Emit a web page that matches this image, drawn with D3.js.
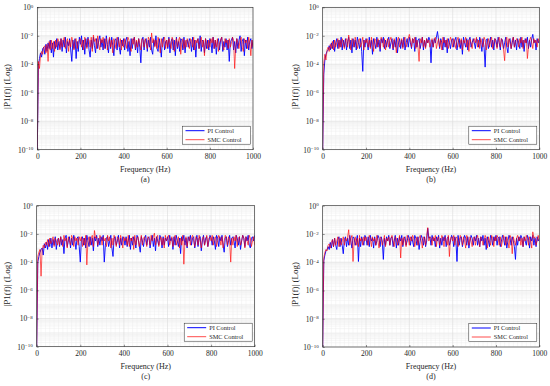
<!DOCTYPE html>
<html>
<head>
<meta charset="utf-8">
<script src="https://cdn.jsdelivr.net/npm/d3@7"></script>
<style>
  body { margin: 0; background: #fff; }
  text { font-family: "Liberation Serif", "Times New Roman", serif; fill: #262626; }
</style>
</head>
<body>
<div id="chart"></div>
<script>
// spectra, stored as log10 |P1(f)|, one value every 5 Hz from 0 to 1000 Hz
var freqStep = 5;
var xTicks = [0, 200, 400, 600, 800, 1000];
var yTickExp = [0, -2, -4, -6, -8, -10];
var seriesNames = ["PI Control", "SMC Control"];
var panelTags = ["(a)", "(b)", "(c)", "(d)"];

var piA = [
  -10, -4.1, -3.6, -3.2, -3.5, -2.9, -2.8, -3.3, -2.6, -3.1, -2.5, -2.9, -2.3, -3.2, -2.5, -3.5, -2.4, -2.9, -2.2, -3.0,
  -2.4, -2.9, -2.2, -3.1, -2.3, -2.8, -2.1, -3.2, -2.4, -2.7, -2.2, -3.0, -3.8, -2.3, -2.9, -2.2, -3.6, -2.4, -3.1, -2.1,
  -2.6, -2.0, -3.0, -2.3, -3.3, -2.2, -2.8, -2.1, -3.0, -3.5, -2.3, -2.9, -2.1, -2.7, -3.2, -2.2, -2.9, -2.3, -2.0, -2.8,
  -2.3, -3.0, -2.2, -2.9, -2.0, -2.6, -3.2, -2.2, -2.9, -2.1, -2.7, -3.4, -2.3, -2.2, -3.0, -2.1, -2.8, -3.3, -2.3, -2.7,
  -2.2, -3.0, -2.3, -2.1, -3.1, -2.4, -3.4, -2.2, -2.9, -2.3, -2.1, -3.0, -2.4, -3.2, -2.2, -2.8, -3.9, -2.3, -2.1, -3.0,
  -2.3, -2.2, -3.1, -2.3, -2.8, -2.1, -3.0, -3.3, -2.3, -2.7, -2.0, -2.9, -3.1, -2.2, -2.7, -3.5, -2.3, -2.1, -3.0, -2.4,
  -2.3, -2.9, -2.1, -3.2, -2.4, -2.2, -3.0, -2.3, -3.4, -2.1, -2.9, -2.4, -3.1, -2.2, -2.3, -3.0, -2.1, -3.2, -2.4, -2.3,
  -2.8, -2.2, -2.4, -3.1, -2.1, -3.0, -2.3, -3.5, -2.4, -2.2, -2.9, -2.0, -3.1, -2.3, -2.4, -3.2, -2.2, -2.9, -2.3, -3.0,
  -2.2, -2.4, -3.2, -2.1, -2.9, -2.3, -3.3, -2.4, -2.2, -3.0, -2.3, -2.1, -3.1, -2.4, -2.8, -2.2, -3.0, -2.3, -3.8, -2.4,
  -2.3, -2.1, -3.0, -2.4, -3.2, -2.2, -2.9, -2.3, -2.0, -3.1, -2.4, -2.2, -3.4, -2.3, -2.9, -2.1, -3.0, -2.4, -2.2, -2.9,
  -2.3
];
var smcA = [
  -10, -3.8, -4.3, -3.4, -3.1, -3.3, -2.8, -2.7, -3.2, -2.6, -3.8, -2.4, -3.0, -2.3, -2.9, -2.4, -3.1, -2.3, -2.8, -2.2,
  -2.4, -3.0, -2.2, -2.8, -2.3, -2.1, -2.9, -2.4, -2.2, -3.1, -2.3, -2.8, -2.1, -2.5, -3.0, -2.3, -2.2, -2.9, -2.4, -2.3,
  -2.2, -2.8, -2.3, -3.0, -2.1, -2.5, -2.9, -2.2, -2.3, -2.8, -2.1, -3.1, -1.95, -2.4, -2.2, -2.9, -2.0, -2.6, -3.0, -2.2,
  -2.5, -2.1, -2.9, -2.3, -2.2, -3.0, -2.4, -2.1, -2.8, -2.3, -3.2, -2.2, -2.5, -2.9, -2.1, -2.3, -2.8, -2.2, -3.0, -2.3,
  -2.8, -2.2, -2.5, -2.9, -2.1, -2.3, -2.8, -3.1, -2.2, -2.6, -2.1, -2.9, -2.3, -2.8, -2.2, -2.5, -3.0, -2.2, -2.3, -2.8,
  -2.2, -2.5, -2.9, -2.1, -2.3, -3.0, -1.8, -2.5, -2.2, -2.8, -2.3, -2.9, -2.1, -2.5, -3.2, -2.2, -2.8, -2.3, -2.1, -2.9,
  -2.3, -2.8, -2.2, -2.5, -2.9, -2.1, -2.3, -3.1, -2.5, -2.2, -2.8, -2.3, -2.1, -3.3, -2.5, -2.2, -2.9, -2.3, -2.8, -2.2,
  -2.5, -2.9, -2.2, -2.3, -2.8, -2.1, -3.0, -2.3, -2.5, -2.2, -2.9, -2.5, -2.1, -2.8, -2.3, -3.4, -2.2, -2.5, -2.9, -2.3,
  -2.8, -2.2, -2.5, -2.1, -2.9, -2.3, -2.8, -2.2, -3.1, -2.5, -2.3, -2.1, -2.8, -3.0, -2.2, -2.5, -2.3, -2.9, -2.2, -2.8,
  -2.5, -2.1, -2.3, -4.3, -2.8, -2.2, -2.5, -2.9, -2.3, -2.1, -2.8, -3.1, -2.2, -2.5, -2.3, -2.9, -2.1, -2.5, -3.4, -2.3,
  -2.8
];
var piB = [
  -10, -4.7, -3.7, -3.3, -3.1, -3.0, -2.7, -3.0, -2.5, -2.9, -2.3, -3.1, -2.5, -2.2, -2.9, -2.3, -2.8, -2.1, -3.0, -2.3,
  -2.8, -2.2, -3.0, -2.4, -2.1, -2.9, -2.3, -3.2, -2.2, -2.8, -2.3, -3.0, -2.1, -2.5, -2.9, -2.2, -3.1, -4.5, -2.3, -2.8,
  -2.2, -2.5, -3.0, -2.1, -2.8, -2.3, -3.3, -2.2, -2.5, -2.9, -2.1, -2.8, -2.3, -3.1, -2.2, -2.5, -2.1, -2.9, -2.3, -2.8,
  -2.3, -2.1, -2.9, -2.5, -2.2, -3.0, -2.3, -2.8, -2.1, -3.2, -2.5, -2.2, -2.9, -2.3, -2.8, -2.1, -3.0, -2.5, -2.2, -2.8,
  -2.1, -2.5, -2.9, -2.2, -2.3, -3.1, -2.1, -2.8, -2.3, -2.2, -2.9, -2.5, -2.1, -3.0, -2.3, -2.8, -2.2, -2.5, -2.1, -2.3,
  -3.9, -2.3, -2.8, -2.2, -2.5, -2.1, -1.7, -2.3, -2.9, -2.2, -2.5, -3.0, -2.1, -2.8, -2.3, -3.2, -2.2, -2.5, -2.9, -2.3,
  -2.2, -2.8, -2.3, -2.1, -3.0, -2.5, -2.2, -2.9, -2.3, -3.3, -2.1, -2.5, -2.8, -2.2, -3.0, -2.3, -2.1, -2.8, -2.5, -2.2,
  -2.5, -2.9, -2.2, -2.3, -2.8, -2.1, -2.5, -3.1, -2.2, -2.8, -4.2, -2.3, -2.2, -2.9, -2.5, -2.1, -2.8, -2.3, -3.0, -2.2,
  -2.3, -2.8, -2.1, -2.5, -3.0, -2.2, -2.3, -2.9, -2.5, -2.1, -2.8, -3.2, -2.3, -2.2, -2.9, -2.5, -2.1, -2.8, -2.3, -3.0,
  -2.2, -2.5, -2.9, -2.1, -2.8, -2.3, -3.1, -2.2, -2.5, -2.1, -2.9, -2.3, -2.8, -2.2, -1.9, -2.5, -2.3, -3.0, -2.2, -2.5,
  -2.3
];
var smcB = [
  -10, -3.9, -3.3, -3.7, -3.0, -2.8, -3.1, -2.6, -2.9, -2.4, -3.0, -2.3, -2.8, -2.5, -2.2, -2.9, -2.3, -2.8, -2.2, -2.5,
  -2.9, -2.3, -2.2, -2.8, -1.95, -2.5, -3.0, -2.2, -2.3, -2.8, -2.1, -2.5, -2.9, -2.3, -2.2, -2.8, -2.5, -2.1, -3.0, -2.3,
  -2.5, -2.2, -2.8, -2.3, -2.9, -2.1, -2.5, -3.1, -2.2, -2.3, -2.8, -2.2, -2.5, -2.9, -2.1, -2.3, -2.8, -2.2, -3.0, -2.5,
  -2.2, -2.8, -2.3, -2.1, -2.5, -2.9, -2.2, -2.5, -3.2, -2.3, -2.1, -2.8, -2.5, -2.2, -2.9, -2.3, -2.1, -2.8, -2.5, -2.2,
  -1.9, -2.3, -2.8, -2.2, -2.5, -2.1, -2.9, -2.3, -2.8, -3.8, -2.2, -2.5, -2.1, -2.8, -2.3, -2.9, -2.2, -2.5, -2.3, -2.8,
  -2.5, -2.2, -2.8, -2.3, -2.1, -2.9, -2.5, -2.2, -2.8, -2.3, -3.0, -2.1, -2.5, -2.3, -2.8, -2.2, -2.9, -2.5, -2.1, -2.3,
  -2.8, -2.2, -2.5, -2.9, -2.3, -2.1, -2.8, -2.5, -2.2, -3.0, -2.3, -2.5, -2.1, -2.8, -2.3, -3.1, -2.2, -2.5, -2.9, -2.3,
  -2.2, -2.5, -2.1, -2.8, -2.3, -2.9, -2.2, -2.5, -2.8, -2.1, -2.3, -3.0, -2.5, -2.2, -2.8, -2.3, -2.1, -2.9, -2.5, -2.2,
  -2.5, -2.9, -2.3, -2.1, -2.8, -2.2, -2.5, -3.0, -3.75, -2.3, -2.1, -2.8, -2.2, -2.5, -2.9, -2.3, -2.1, -2.8, -2.5, -2.2,
  -2.3, -2.8, -2.2, -2.5, -2.1, -2.9, -2.3, -2.5, -2.2, -3.6, -2.8, -2.3, -2.1, -2.5, -2.9, -2.2, -2.5, -2.3, -2.8, -2.2,
  -2.5
];
var piC = [
  -10, -4.0, -3.6, -3.3, -3.1, -3.0, -3.5, -2.7, -3.0, -2.6, -3.1, -2.4, -2.9, -2.3, -3.0, -2.4, -2.8, -2.2, -3.1, -2.4,
  -2.3, -2.9, -2.2, -2.8, -2.4, -3.4, -2.3, -2.1, -2.9, -2.5, -2.2, -3.0, -2.3, -2.8, -2.1, -2.5, -3.1, -2.3, -2.2, -2.9,
  -4.0, -2.4, -2.2, -2.8, -2.3, -3.0, -2.1, -2.5, -2.9, -2.2, -2.8, -2.3, -3.2, -2.2, -2.5, -2.1, -2.9, -2.3, -2.8, -2.2,
  -2.5, -2.1, -4.0, -2.8, -2.3, -2.2, -2.9, -2.5, -2.1, -3.0, -3.6, -2.3, -2.2, -2.8, -2.5, -2.1, -3.0, -2.3, -2.8, -2.2,
  -2.3, -2.8, -2.2, -2.9, -2.5, -2.1, -3.1, -2.3, -2.8, -2.2, -2.5, -3.0, -2.1, -2.3, -2.8, -3.3, -2.2, -2.5, -2.9, -2.3,
  -2.1, -2.8, -2.3, -2.2, -3.0, -2.5, -2.1, -2.9, -2.3, -3.2, -2.2, -2.5, -2.8, -2.1, -2.3, -3.0, -2.2, -2.8, -2.3, -2.5,
  -2.2, -2.9, -2.1, -2.5, -2.3, -3.1, -2.2, -2.8, -2.1, -2.5, -2.9, -2.3, -3.4, -2.2, -2.5, -2.1, -2.8, -2.3, -3.0, -2.2,
  -2.5, -2.1, -2.8, -2.3, -2.2, -3.0, -2.5, -2.1, -2.9, -2.3, -2.2, -3.2, -2.5, -2.1, -2.8, -2.3, -2.2, -2.9, -2.5, -2.1,
  -2.3, -2.8, -2.2, -2.5, -3.1, -2.1, -2.3, -2.9, -2.2, -2.5, -2.1, -2.8, -3.3, -2.3, -2.2, -2.9, -2.5, -2.1, -2.8, -2.3,
  -2.2, -2.5, -3.0, -2.1, -2.3, -2.8, -2.2, -3.1, -2.5, -2.1, -2.3, -2.9, -2.2, -2.5, -2.1, -2.8, -3.0, -2.3, -2.2, -2.5,
  -2.1
];
var smcC = [
  -10, -3.6, -3.3, -3.1, -5.0, -3.1, -2.8, -3.0, -2.6, -2.8, -2.4, -2.9, -2.3, -2.7, -2.5, -2.2, -2.9, -2.3, -2.5, -2.8,
  -2.3, -2.8, -2.2, -2.5, -2.9, -2.1, -2.5, -2.3, -3.0, -2.2, -2.5, -2.8, -2.1, -2.3, -2.9, -2.2, -2.5, -2.3, -2.8, -2.2,
  -2.5, -2.2, -2.9, -2.3, -2.8, -2.1, -4.2, -2.5, -2.2, -2.8, -2.3, -2.1, -2.9, -1.76, -2.3, -2.2, -2.8, -2.5, -2.1, -2.3,
  -2.8, -2.2, -2.5, -2.3, -2.9, -2.1, -2.5, -2.2, -3.0, -2.3, -2.8, -2.1, -2.5, -2.9, -2.2, -2.3, -2.8, -2.1, -2.5, -3.0,
  -2.2, -2.5, -2.3, -2.8, -2.1, -2.9, -2.3, -2.5, -2.2, -3.1, -2.1, -2.8, -2.3, -2.2, -2.9, -2.5, -2.1, -2.8, -2.3, -2.2,
  -2.5, -2.9, -2.2, -2.3, -2.8, -2.1, -2.5, -2.2, -1.95, -2.8, -2.3, -2.1, -2.9, -2.5, -2.2, -2.8, -2.3, -3.0, -2.1, -2.5,
  -2.3, -2.1, -2.8, -2.5, -2.2, -2.9, -2.3, -2.1, -2.8, -2.5, -2.2, -3.0, -2.3, -2.8, -2.1, -4.15, -2.5, -2.2, -2.9, -2.3,
  -2.2, -2.8, -2.3, -2.1, -2.5, -2.9, -2.2, -2.3, -2.8, -2.1, -2.5, -3.0, -2.3, -2.2, -2.8, -2.5, -2.1, -2.9, -2.3, -2.2,
  -2.5, -2.1, -2.8, -2.3, -2.2, -2.9, -2.5, -2.1, -2.3, -2.8, -2.2, -3.0, -2.5, -2.1, -2.3, -2.8, -2.2, -2.5, -4.0, -2.3,
  -2.8, -2.2, -2.5, -2.1, -2.9, -2.3, -2.2, -2.8, -2.5, -2.1, -2.3, -3.0, -2.2, -2.5, -2.8, -2.1, -2.3, -2.9, -2.5, -2.2,
  -2.8
];
var piD = [
  -10, -3.9, -3.5, -3.2, -3.1, -2.9, -3.1, -2.6, -3.0, -2.4, -2.9, -2.3, -2.8, -3.1, -2.4, -2.2, -2.9, -2.3, -2.8, -3.4,
  -2.4, -2.2, -2.9, -2.3, -2.8, -2.1, -2.5, -3.0, -2.2, -2.3, -2.8, -2.5, -2.1, -3.95, -2.3, -2.9, -2.2, -2.5, -2.8, -2.1,
  -2.3, -2.8, -2.2, -2.9, -2.1, -2.5, -2.3, -3.0, -2.2, -2.8, -2.5, -2.1, -2.3, -2.9, -2.2, -2.5, -3.8, -2.3, -2.8, -2.2,
  -2.5, -2.1, -2.8, -2.3, -2.2, -2.9, -2.5, -2.1, -3.0, -2.3, -2.8, -2.2, -2.5, -2.1, -2.9, -2.3, -2.2, -2.8, -2.5, -2.1,
  -2.3, -2.8, -2.2, -2.5, -2.9, -2.1, -2.3, -2.8, -2.2, -3.1, -2.5, -2.1, -2.3, -2.8, -2.2, -2.9, -2.5, -1.6, -2.3, -2.2,
  -2.8, -2.1, -2.5, -2.3, -2.9, -2.2, -2.5, -2.1, -3.0, -2.3, -2.8, -2.2, -2.5, -2.1, -2.9, -2.3, -2.2, -2.8, -2.5, -2.1,
  -2.3, -2.9, -2.2, -2.5, -3.95, -2.1, -2.8, -2.3, -2.2, -2.9, -2.5, -2.1, -2.3, -2.8, -2.2, -3.0, -2.5, -2.1, -2.3, -2.8,
  -2.2, -2.5, -2.1, -2.8, -2.3, -2.9, -2.2, -2.5, -2.1, -2.8, -2.3, -3.1, -2.2, -2.5, -2.9, -2.1, -2.3, -2.8, -2.2, -2.5,
  -2.1, -2.8, -2.3, -2.2, -2.9, -2.5, -2.1, -2.3, -2.8, -2.2, -3.0, -2.5, -2.1, -2.3, -2.8, -2.2, -2.5, -2.9, -3.8, -2.3,
  -2.8, -2.2, -2.5, -2.1, -2.3, -2.9, -2.2, -2.5, -2.8, -2.1, -2.3, -3.0, -2.2, -2.5, -2.1, -2.8, -2.3, -2.9, -2.2, -2.5,
  -2.3
];
var smcD = [
  -10, -3.7, -3.3, -3.1, -3.2, -2.8, -2.7, -3.0, -2.6, -2.4, -2.9, -2.3, -2.8, -2.5, -2.2, -2.9, -2.3, -2.8, -2.5, -2.2,
  -2.8, -2.3, -2.5, -2.2, -1.7, -2.8, -2.3, -2.1, -3.95, -2.5, -2.2, -2.8, -2.3, -2.9, -2.1, -2.5, -2.3, -2.8, -2.2, -2.5,
  -2.2, -2.5, -2.8, -2.1, -2.3, -2.9, -2.2, -2.5, -2.3, -2.8, -2.1, -2.5, -3.0, -2.2, -2.3, -2.8, -2.5, -2.1, -2.9, -2.3,
  -2.5, -2.2, -2.8, -2.3, -2.1, -2.5, -2.9, -2.2, -2.3, -2.8, -2.5, -2.1, -3.7, -2.3, -2.8, -2.2, -2.5, -2.9, -2.1, -2.3,
  -2.8, -2.2, -2.5, -2.1, -2.3, -2.9, -2.5, -2.2, -2.8, -2.3, -2.1, -2.5, -3.0, -2.2, -2.3, -2.8, -2.1, -1.55, -2.5, -2.2,
  -2.3, -2.8, -2.2, -2.5, -2.1, -2.9, -2.3, -2.2, -2.8, -2.5, -2.1, -2.3, -2.9, -2.2, -2.5, -2.8, -2.1, -3.6, -2.3, -2.2,
  -2.5, -2.1, -2.8, -2.3, -2.2, -2.9, -2.5, -2.1, -2.3, -2.8, -2.2, -2.5, -3.0, -2.1, -2.3, -2.8, -2.2, -2.5, -2.9, -2.3,
  -2.2, -2.8, -2.3, -2.1, -2.5, -2.9, -2.2, -2.3, -2.8, -2.5, -2.1, -2.3, -3.0, -2.2, -2.5, -2.8, -2.1, -2.3, -2.9, -2.2,
  -2.5, -2.1, -2.3, -2.8, -2.2, -2.9, -2.5, -2.1, -2.3, -2.8, -2.2, -2.5, -3.0, -2.1, -2.3, -3.4, -2.2, -2.5, -2.8, -2.3,
  -2.1, -2.5, -2.2, -2.8, -2.3, -2.9, -2.2, -2.5, -2.1, -2.3, -2.8, -2.2, -2.5, -3.0, -1.85, -2.3, -2.2, -2.8, -2.5, -2.1,
  -2.5
];

var svgWidth = 550;
var svgHeight = 386;

var svg = d3.select("#chart")
  .append("svg")
  .attr("width", svgWidth)
  .attr("height", svgHeight);

// plot boxes, in page pixels
var panels = [
  {pi: piA, smc: smcA, left: 37.3, right: 253, top: 7.3, bottom: 149.7, ylab: 6},
  {pi: piB, smc: smcB, left: 322.7, right: 539.3, top: 7.3, bottom: 149.7, ylab: 294},
  {pi: piC, smc: smcC, left: 36.7, right: 254.7, top: 205.7, bottom: 346.7, ylab: 6},
  {pi: piD, smc: smcD, left: 322.7, right: 539.3, top: 205.7, bottom: 347, ylab: 294}
];

var colors = ["#0000ff", "#ff0000"];

function drawPanel(p, i) {
  var x = d3.scaleLinear().domain([0, 1000]).range([p.left, p.right]);
  var y = d3.scaleLog().domain([1e-10, 1]).range([p.bottom, p.top]);
  var g = svg.append("g");

  // minor grid
  var xMinor = d3.range(20, 1000, 20).filter(function(v) { return v % 200 !== 0; });
  var yMinor = [];
  for (var e = -10; e < 0; e++) {
    for (var m = 1; m < 10; m++) {
      if (m === 1 && e % 2 === 0) continue;
      yMinor.push(m * Math.pow(10, e));
    }
  }
  g.append("g").selectAll("line").data(xMinor).join("line")
    .attr("x1", d => x(d)).attr("x2", d => x(d))
    .attr("y1", p.top).attr("y2", p.bottom)
    .attr("stroke", "#efefef").attr("stroke-width", 0.5);
  g.append("g").selectAll("line").data(yMinor).join("line")
    .attr("x1", p.left).attr("x2", p.right)
    .attr("y1", d => y(d)).attr("y2", d => y(d))
    .attr("stroke", "#ececec").attr("stroke-width", 0.5);

  // major grid
  g.append("g").selectAll("line").data(xTicks).join("line")
    .attr("x1", d => x(d)).attr("x2", d => x(d))
    .attr("y1", p.top).attr("y2", p.bottom)
    .attr("stroke", "#dcdcdc").attr("stroke-width", 0.6);
  g.append("g").selectAll("line").data(yTickExp).join("line")
    .attr("x1", p.left).attr("x2", p.right)
    .attr("y1", d => y(Math.pow(10, d))).attr("y2", d => y(Math.pow(10, d)))
    .attr("stroke", "#dcdcdc").attr("stroke-width", 0.6);

  // clip for the traces
  var clipId = "clip" + i;
  svg.append("clipPath").attr("id", clipId)
    .append("rect")
    .attr("x", p.left).attr("y", p.top)
    .attr("width", p.right - p.left).attr("height", p.bottom - p.top);

  var line = d3.line()
    .x((d, k) => x(k * freqStep))
    .y(d => y(Math.pow(10, d)));

  var traces = g.append("g").attr("clip-path", "url(#" + clipId + ")");
  traces.append("path")
    .datum(p.pi)
    .attr("d", line)
    .attr("fill", "none")
    .attr("stroke", colors[0])
    .attr("stroke-width", 0.9);
  traces.append("path")
    .datum(p.smc)
    .attr("d", line)
    .attr("fill", "none")
    .attr("stroke", colors[1])
    .attr("stroke-opacity", 0.7)
    .attr("stroke-width", 0.9);

  // axes
  var bottomAxis = d3.axisBottom(x).tickValues(xTicks).tickFormat(d3.format("d"))
    .tickSizeInner(-2).tickSizeOuter(0).tickPadding(4);
  var xAxis = g.append("g")
    .attr("transform", `translate(0, ${p.bottom})`)
    .call(bottomAxis);
  xAxis.select(".domain").remove();
  xAxis.selectAll("line").attr("stroke", "#262626").attr("stroke-width", 0.5);
  xAxis.selectAll("text").attr("font-size", 7.5).attr("fill", "#262626");

  var leftAxis = d3.axisLeft(y).tickValues(yTickExp.map(d => Math.pow(10, d)))
    .tickSizeInner(-2).tickSizeOuter(0).tickFormat("");
  var yAxis = g.append("g")
    .attr("transform", `translate(${p.left}, 0)`)
    .call(leftAxis);
  yAxis.select(".domain").remove();
  yAxis.selectAll("line").attr("stroke", "#262626").attr("stroke-width", 0.5);
  yAxis.selectAll(".tick text").each(function(d) {
    var t = d3.select(this)
      .attr("x", -4)
      .attr("dy", "0.32em")
      .attr("font-size", 7.5)
      .attr("fill", "#262626");
    t.append("tspan").text("10");
    t.append("tspan")
      .attr("dy", "-0.45em")
      .attr("font-size", 5)
      .text(String(Math.round(Math.log10(d))).replace("-", "\u2212"));
  });

  // box
  g.append("rect")
    .attr("x", p.left).attr("y", p.top)
    .attr("width", p.right - p.left).attr("height", p.bottom - p.top)
    .attr("fill", "none")
    .attr("stroke", "#262626")
    .attr("stroke-width", 0.6);

  // labels
  var midX = (p.left + p.right) / 2;
  g.append("text")
    .attr("x", midX).attr("y", p.bottom + 22)
    .attr("text-anchor", "middle")
    .attr("font-size", 8)
    .text("Frequency (Hz)");
  g.append("text")
    .attr("x", midX).attr("y", p.bottom + 32)
    .attr("text-anchor", "middle")
    .attr("font-size", 8)
    .text(panelTags[i]);
  g.append("text")
    .attr("transform", `translate(${p.ylab + 4}, ${(p.top + p.bottom) / 2 + 8}) rotate(-90)`)
    .attr("text-anchor", "middle")
    .attr("font-size", 9)
    .text("|P1(f)| (Log)");

  // legend, bottom right inside the axes
  var lw = 68, lh = 18;
  var lx = p.right - 2.5 - lw;
  var ly = p.bottom - 5.5 - lh;
  var legend = g.append("g").attr("transform", `translate(${lx}, ${ly})`);
  legend.append("rect")
    .attr("width", lw).attr("height", lh)
    .attr("fill", "#fff")
    .attr("stroke", "#262626")
    .attr("stroke-width", 0.5);
  seriesNames.forEach(function(name, k) {
    var yy = 4.5 + k * 9;
    legend.append("line")
      .attr("x1", 3).attr("x2", 22)
      .attr("y1", yy).attr("y2", yy)
      .attr("stroke", colors[k])
      .attr("stroke-opacity", k === 1 ? 0.7 : 1)
      .attr("stroke-width", 1);
    legend.append("text")
      .attr("x", 25).attr("y", yy)
      .attr("dy", "0.33em")
      .attr("font-size", 6.3)
      .text(name);
  });
}

panels.forEach(drawPanel);
</script>
</body>
</html>
